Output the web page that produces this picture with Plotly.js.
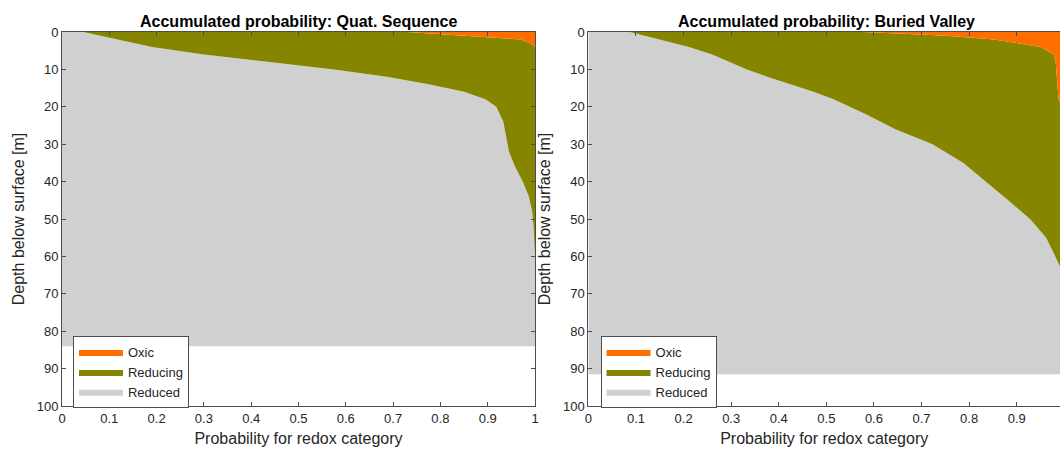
<!DOCTYPE html>
<html>
<head>
<meta charset="utf-8">
<script src="https://cdn.plot.ly/plotly-3.0.1.min.js"></script>
<style>html,body{margin:0;padding:0;background:#fff;}#chart{width:1060px;height:449px;}</style>
</head>
<body>
<div id="chart"></div>
<script>
// ---- Data ----
const categories = ['Reduced', 'Reducing', 'Oxic'];
const categoryColors = ['#d0d0d0', '#858500', '#ff6e00'];

// Panel 1: Quat. Sequence
const depthQuat    = [0, 1, 2, 3, 4, 6, 8, 10, 12, 14, 16, 18, 20, 24, 28, 32, 36, 40, 44, 48, 52, 56, 60, 84];
const reducedQuat  = [0.045, 0.08, 0.12, 0.155, 0.19, 0.30, 0.44, 0.575, 0.69, 0.775, 0.85, 0.895, 0.918, 0.933, 0.939, 0.945, 0.958, 0.974, 0.987, 0.994, 0.997, 0.999, 1.0, 1.0];
const reducingQuat = [0.685, 0.77, 0.85, 0.835, 0.81, 0.70, 0.56, 0.425, 0.31, 0.225, 0.15, 0.105, 0.082, 0.067, 0.061, 0.055, 0.042, 0.026, 0.013, 0.006, 0.003, 0.001, 0, 0];
const oxicQuat     = [0.27, 0.15, 0.03, 0.01, 0, 0, 0, 0, 0, 0, 0, 0, 0, 0, 0, 0, 0, 0, 0, 0, 0, 0, 0, 0];

// Panel 2: Buried Valley
const depthBuried    = [0, 1, 2, 4, 6, 8, 10, 12, 14, 16, 18, 20, 22, 26, 30, 35, 40, 45, 50, 55, 60, 63, 66, 91.5];
const reducedBuried  = [0.087, 0.119, 0.151, 0.211, 0.26, 0.295, 0.333, 0.377, 0.424, 0.473, 0.515, 0.549, 0.583, 0.645, 0.723, 0.788, 0.836, 0.882, 0.928, 0.962, 0.981, 0.992, 1.0, 1.0];
const reducingBuried = [0.491, 0.634, 0.702, 0.740, 0.718, 0.687, 0.650, 0.607, 0.561, 0.513, 0.473, 0.446, 0.415, 0.355, 0.277, 0.212, 0.164, 0.118, 0.072, 0.038, 0.019, 0.008, 0, 0];
const oxicBuried     = [0.422, 0.247, 0.147, 0.049, 0.022, 0.018, 0.017, 0.016, 0.015, 0.014, 0.012, 0.005, 0.002, 0, 0, 0, 0, 0, 0, 0, 0, 0, 0, 0];

const panelTitles = ['Accumulated probability: Quat. Sequence', 'Accumulated probability: Buried Valley'];
const xTitle = 'Probability for redox category';
const yTitle = 'Depth below surface [m]';

// ---- Build traces ----
const FONT = 'Liberation Sans, Arial, Helvetica, sans-serif';
const TXT = '#262626';

function panelTraces(depth, series, xa, ya, group, legendId) {
  return series.map((vals, i) => ({
    type: 'scatter',
    mode: 'lines',
    name: categories[i],
    x: vals,
    y: depth,
    xaxis: xa,
    yaxis: ya,
    stackgroup: group,
    orientation: 'h',
    line: {width: 0, color: categoryColors[i]},
    fillcolor: categoryColors[i],
    legend: legendId,
    hoverinfo: 'x+y+name'
  }));
}

const data = [].concat(
  panelTraces(depthQuat, [reducedQuat, reducingQuat, oxicQuat], 'x', 'y', 'quat', 'legend'),
  panelTraces(depthBuried, [reducedBuried, reducingBuried, oxicBuried], 'x2', 'y2', 'buried', 'legend2')
);

const axisCommon = {
  showgrid: false,
  zeroline: false,
  showline: true,
  linecolor: '#4d4d4d',
  linewidth: 1,
  ticks: 'inside',
  ticklen: 4,
  tickwidth: 1,
  tickcolor: '#4d4d4d',
  automargin: false,
  tickangle: 0,
  tickfont: {family: FONT, size: 13, color: TXT}
};

const legendCommon = {
  xref: 'paper', yref: 'paper',
  xanchor: 'left', yanchor: 'top',
  y: 0.187,
  bgcolor: '#ffffff',
  bordercolor: '#4d4d4d',
  borderwidth: 1,
  traceorder: 'reversed',
  itemwidth: 44,
  tracegroupgap: 0,
  font: {family: FONT, size: 13, color: TXT}
};

const layout = {
  width: 1060,
  height: 449,
  margin: {l: 62, r: 0, t: 32, b: 42.5, autoexpand: false},
  paper_bgcolor: '#ffffff',
  plot_bgcolor: '#ffffff',
  font: {family: FONT, color: TXT},
  xaxis: Object.assign({}, axisCommon, {
    domain: [0, 0.47395], anchor: 'y', range: [0, 1], dtick: 0.1, tick0: 0, mirror: 'ticks',
    title: {text: xTitle, font: {family: FONT, size: 16, color: TXT}, standoff: 8}
  }),
  yaxis: Object.assign({}, axisCommon, {
    domain: [0, 1], anchor: 'x', range: [100, 0], dtick: 10, tick0: 0, mirror: 'ticks',
    title: {text: yTitle, font: {family: FONT, size: 16, color: TXT}, standoff: 8}
  }),
  xaxis2: Object.assign({}, axisCommon, {
    domain: [0.52745, 1], anchor: 'y2', range: [0, 0.991], dtick: 0.1, tick0: 0, mirror: 'ticks',
    title: {text: xTitle, font: {family: FONT, size: 16, color: TXT}, standoff: 8}
  }),
  yaxis2: Object.assign({}, axisCommon, {
    domain: [0, 1], anchor: 'x2', range: [100, 0], dtick: 10, tick0: 0, mirror: false,
    title: {text: yTitle, font: {family: FONT, size: 16, color: TXT}, standoff: 8}
  }),
  legend: Object.assign({}, legendCommon, {x: 0.011}),
  legend2: Object.assign({}, legendCommon, {x: 0.5396}),
  annotations: [
    {text: '<b>' + panelTitles[0] + '</b>', xref: 'x domain', yref: 'paper', x: 0.5, y: 1,
     xanchor: 'center', yanchor: 'bottom', yshift: 0, showarrow: false,
     font: {family: FONT, size: 16, color: '#000'}},
    {text: '<b>' + panelTitles[1] + '</b>', xref: 'x2', yref: 'paper', x: 0.5, y: 1,
     xanchor: 'center', yanchor: 'bottom', yshift: 0, showarrow: false,
     font: {family: FONT, size: 16, color: '#000'}}
  ],
  showlegend: true
};

Plotly.newPlot('chart', data, layout, {displayModeBar: false, staticPlot: true});
</script>
</body>
</html>
